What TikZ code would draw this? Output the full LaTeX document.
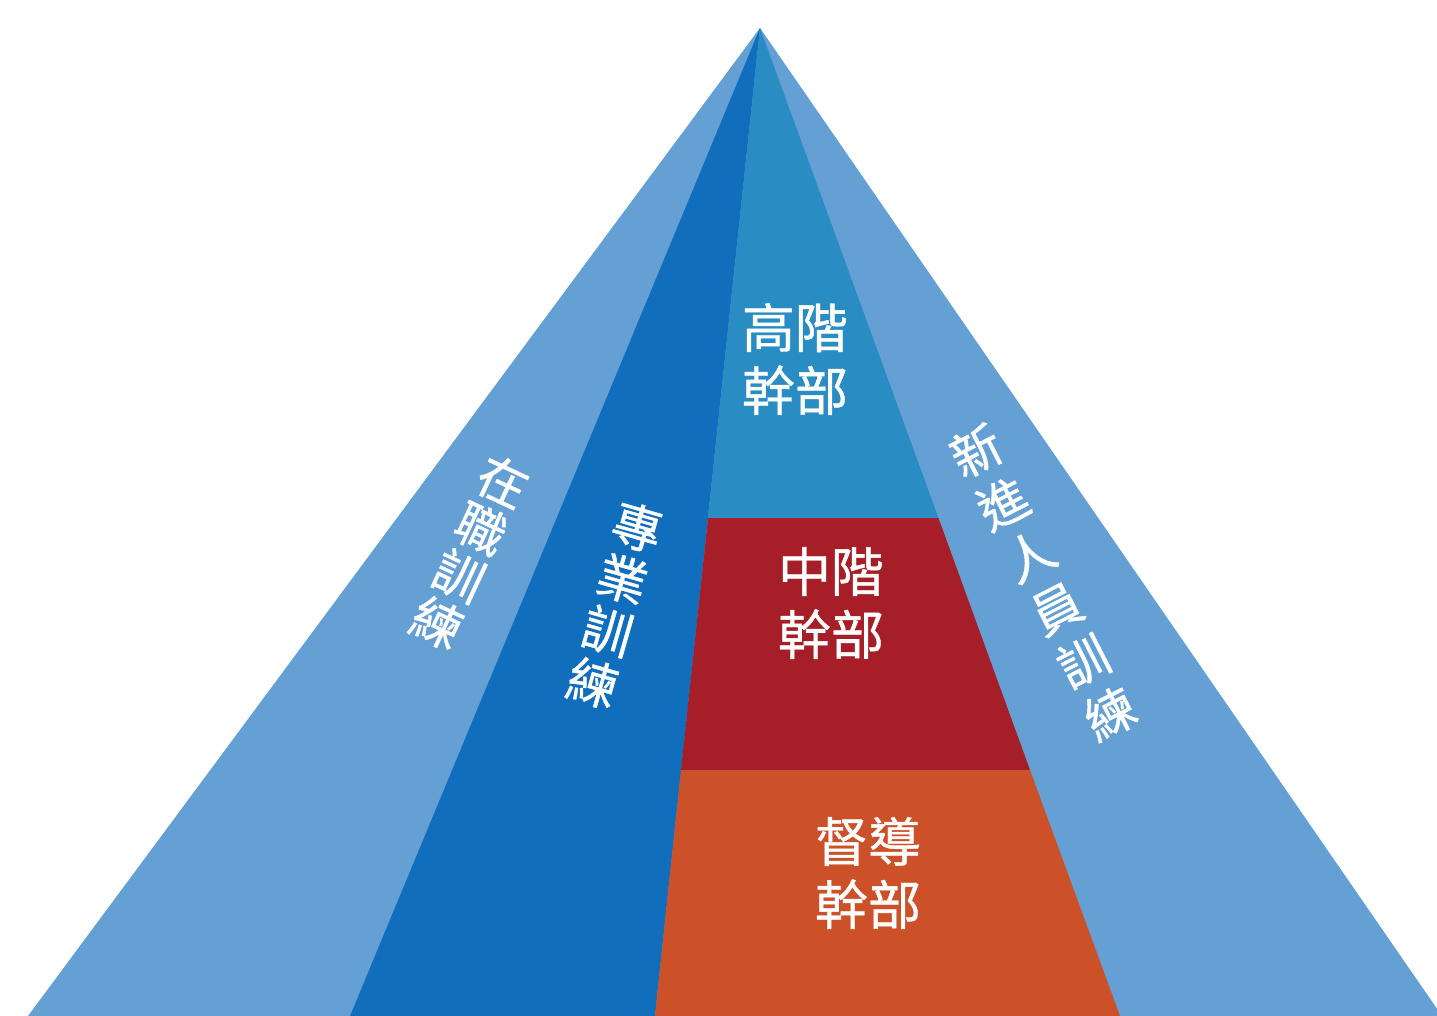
\documentclass[tikz,border=0pt]{standalone}
\usepackage{fontspec}
\newfontfamily\cjk[FakeBold=0.8]{Noto Sans CJK TC}
\definecolor{lightblue}{RGB}{101,160,213}
\definecolor{darkblue}{RGB}{17,110,189}
\definecolor{tealblue}{RGB}{41,141,196}
\definecolor{redband}{RGB}{166,30,40}
\definecolor{orangeband}{RGB}{204,81,40}
\tikzset{
  lvl/.style={text=white, align=center, font=\cjk\fontsize{53}{63}\selectfont, inner sep=0pt},
  col/.style={text=white, align=center, inner sep=0pt},
}
\begin{document}
\begin{tikzpicture}[x=1pt,y=-1pt]
\useasboundingbox (0,0) rectangle (1437,1016);
\fill[white] (0,0) rectangle (1437,1016);
% key points
\coordinate (A) at (760,28);
\coordinate (L0) at (28,1016);
\coordinate (L1) at (350,1016);
\coordinate (C1) at (655,1016);
\coordinate (C2) at (1120,1016);
\coordinate (R0) at (1442,1016);
\coordinate (M1) at (708,518);
\coordinate (M2) at (938.5,518);
\coordinate (N1) at (681,770);
\coordinate (N2) at (1030,770);
% fills
\fill[lightblue] (A) -- (L0) -- (R0) -- cycle;
\fill[darkblue] (A) -- (L1) -- (C1) -- cycle;
\fill[tealblue] (A) -- (M1) -- (M2) -- cycle;
\fill[redband] (M1) -- (N1) -- (N2) -- (M2) -- cycle;
\fill[orangeband] (N1) -- (C1) -- (C2) -- (N2) -- cycle;
% level labels
\node[lvl] (top) at (795,359) {高階\\幹部};
\node[lvl] (mid) at (831,603) {中階\\幹部};
\node[lvl] (low) at (868,873) {督導\\幹部};
% side labels
\node[col, rotate=-25, font=\cjk\fontsize{50}{52}\selectfont] (ojt) at (470,552) {在\\職\\訓\\練};
\node[col, rotate=-16, font=\cjk\fontsize{50}{54}\selectfont] (pro) at (615,605) {專\\業\\訓\\練};
\node[col, rotate=27, font=\cjk\fontsize{50}{59}\selectfont] (newc) at (1043,582) {新\\進\\人\\員\\訓\\練};
\end{tikzpicture}
\end{document}
